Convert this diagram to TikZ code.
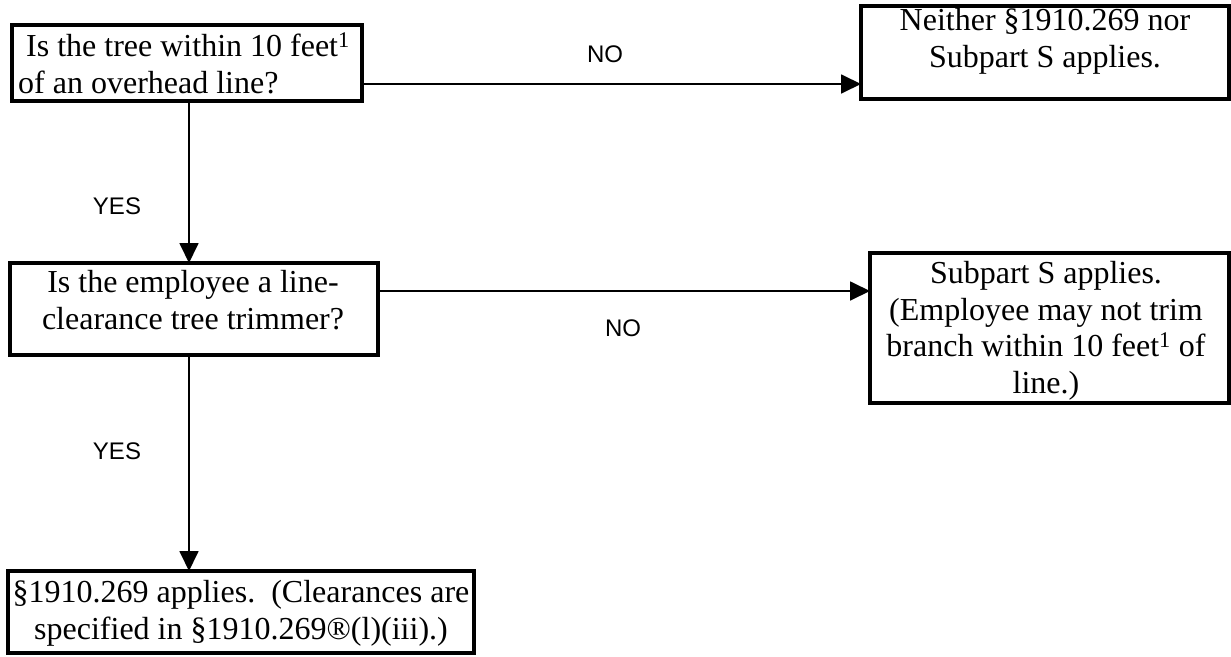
\documentclass[tikz,border=0pt]{standalone}
\usepackage{fontspec}
\setmainfont{Liberation Serif}
\newfontfamily\lsans{Liberation Sans}
\usetikzlibrary{arrows.meta}
\tikzset{
  boxframe/.style={draw=black, line width=3.2pt, inner sep=0pt, outer sep=0pt},
  boxtext/.style={inner sep=0pt, align=center, font=\fontsize{32}{36.8}\selectfont},
  lbl/.style={inner sep=0pt, font=\lsans\fontsize{24}{28}\selectfont},
  arr/.style={line width=1.8pt, -{Triangle[length=20pt,width=19pt]}},
}
\begin{document}
\begin{tikzpicture}[x=1pt,y=-1pt]
\useasboundingbox (0,0) rectangle (1231,656);
% boxes
\node[boxframe, minimum width=350pt, minimum height=76pt] (b1) at (187,63) {};
\node[boxtext, align=left, anchor=north west] (b1t) at (18,30.24)
  {\strut\ Is the tree within 10 feet\textsuperscript{1}\\of an overhead line?};
\node[boxframe, minimum width=368pt, minimum height=93pt] (b2) at (1045,52.5) {};
\node[boxtext, anchor=north] (b2t) at (1045,4.24)
  {\strut Neither §1910.269 nor\\Subpart S applies.};
\node[boxframe, minimum width=368pt, minimum height=92pt] (b3) at (194,309) {};
\node[boxtext, anchor=north] (b3t) at (193,266.24)
  {\strut Is the employee a line-\\clearance tree trimmer?};
\node[boxframe, minimum width=359pt, minimum height=150pt] (b4) at (1049.5,328) {};
\node[boxtext, anchor=north] (b4t) at (1046,257.24)
  {\strut Subpart S applies.\\(Employee may not trim\\branch within 10 feet\textsuperscript{1} of\\line.)};
\node[boxframe, minimum width=466pt, minimum height=82pt] (b5) at (241,612) {};
\node[boxtext, anchor=north] (b5t) at (241,576.24)
  {\strut §1910.269 applies.\ \ (Clearances are\\specified in §1910.269®(l)(iii).)};
% connectors
\draw[arr] (b1.east |- 0,84) -- (b2.west |- 0,84);
\draw[arr] (b3.east |- 0,291) -- (b4.west |- 0,291);
\draw[arr] (b1.south -| 189,0) -- (b3.north -| 189,0);
\draw[arr] (b3.south -| 189,0) -- (b5.north -| 189,0);
% labels
\node[lbl] (no1) at (605,54) {NO};
\node[lbl] (no2) at (623,328) {NO};
\node[lbl] (yes1) at (117,206) {YES};
\node[lbl] (yes2) at (117,451) {YES};
\end{tikzpicture}
\end{document}
